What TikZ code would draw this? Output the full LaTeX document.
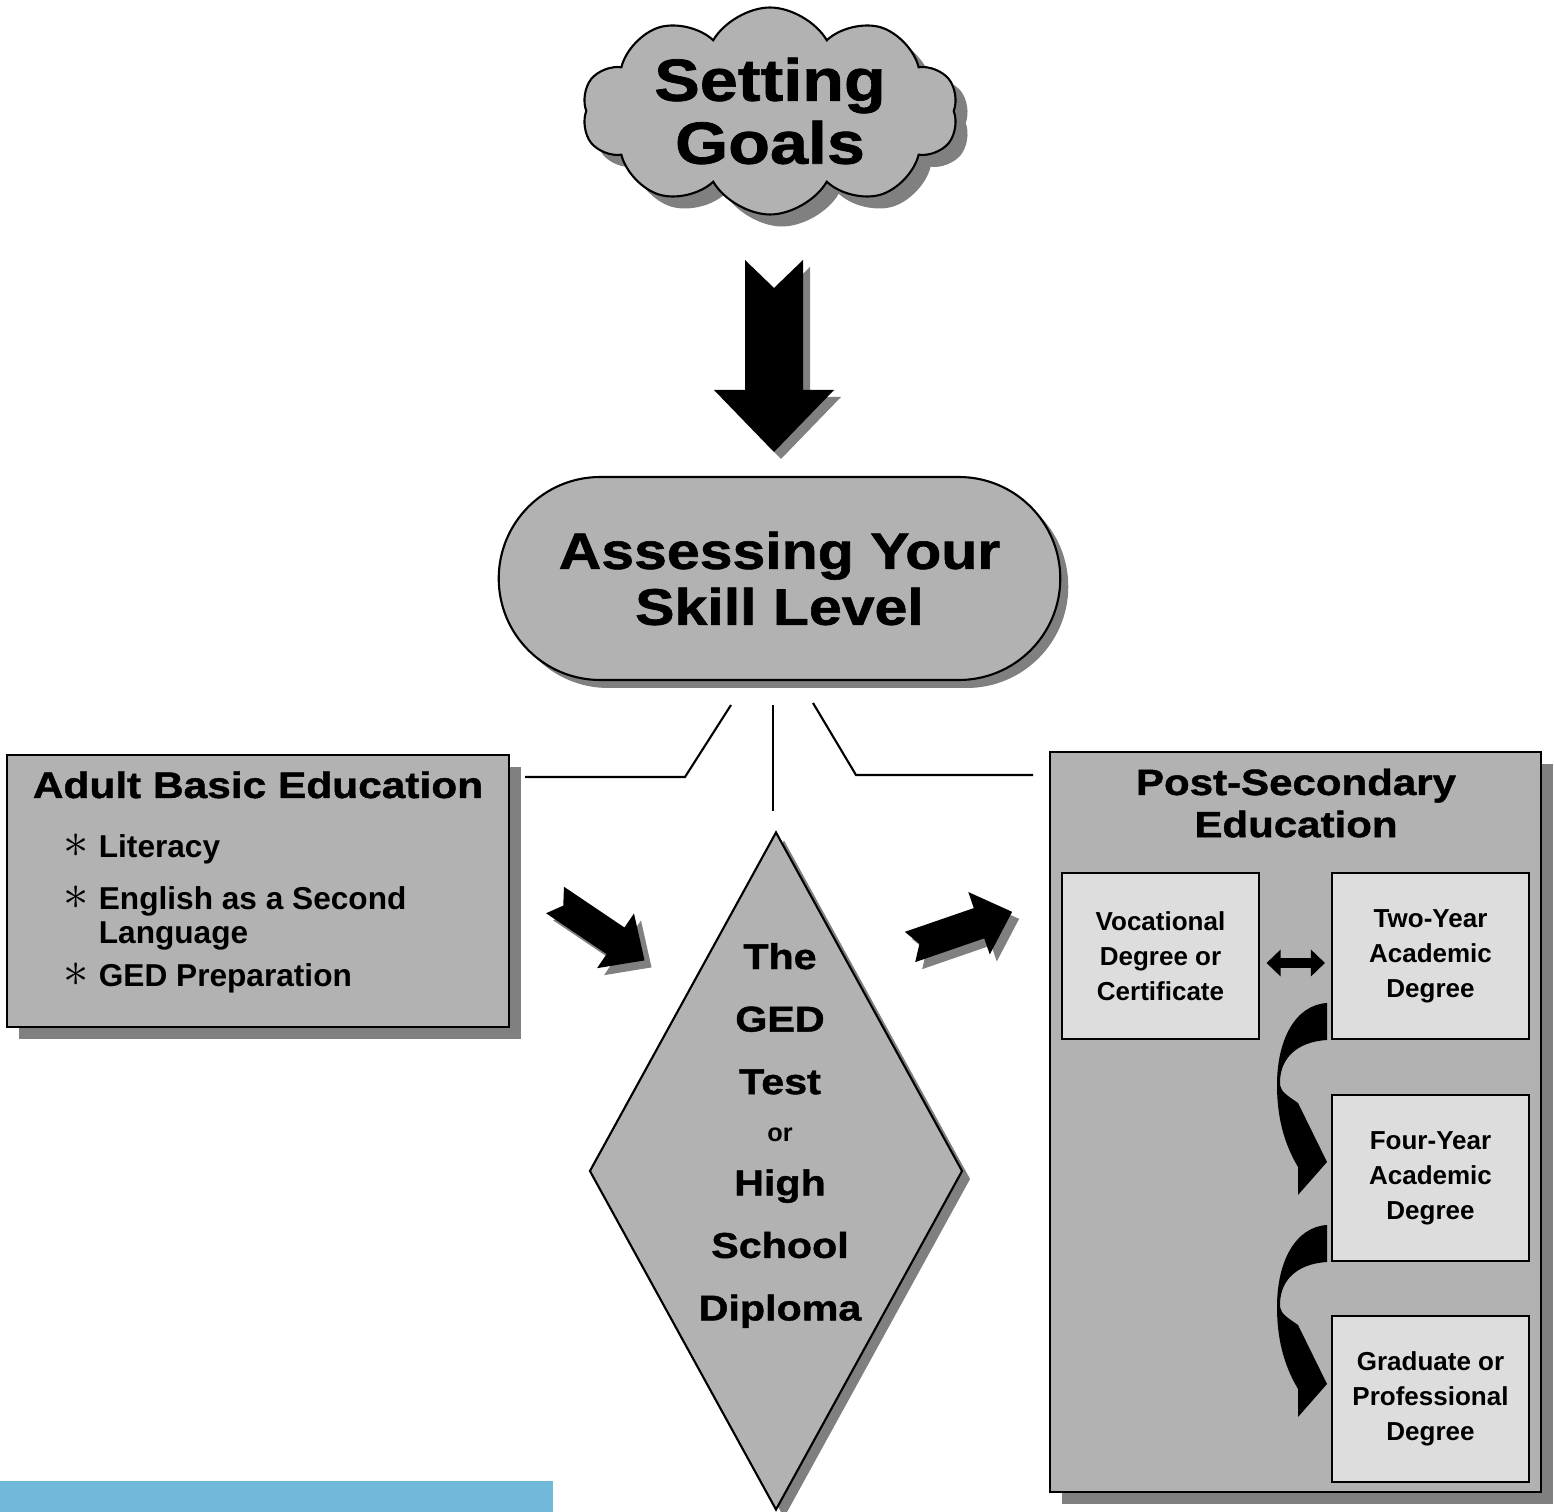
\documentclass[tikz,border=0pt]{standalone}
\usepackage{fontspec}
\setmainfont{Liberation Sans}
\newfontfamily\blackfont{Liberation Sans}[UprightFont={* Bold}, FakeStretch=1.15, FakeBold=1.2]
\usetikzlibrary{shapes.geometric, shapes.misc, shapes.symbols, shadows, arrows.meta, positioning}
\definecolor{boxgray}{RGB}{178,178,178}
\definecolor{shadowgray}{RGB}{128,128,128}
\definecolor{lightbox}{RGB}{221,221,221}
\definecolor{barblue}{RGB}{112,185,218}

\begin{document}
\begin{tikzpicture}[x=0.1mm, y=-0.1mm]
\tikzstyle{shade} = [drop shadow={shadow xshift=0.8mm, shadow yshift=-0.8mm, fill=shadowgray, opacity=1}]
\tikzstyle{bigshade} = [drop shadow={shadow xshift=1.2mm, shadow yshift=-1.2mm, fill=shadowgray, opacity=1}]
\tikzstyle{panel} = [rectangle, draw, line width=0.8pt, fill=boxgray, inner sep=0pt, bigshade]
\tikzstyle{degree} = [rectangle, draw, line width=0.6pt, fill=lightbox, minimum width=19.7mm, minimum height=16.6mm, align=center, inner sep=0pt, font=\bfseries\fontsize{7.4}{10}\selectfont]
\tikzstyle{link} = [line width=0.6pt]
\tikzstyle{twoway} = [{Triangle[length=1.4mm, width=2.6mm]}-{Triangle[length=1.4mm, width=2.6mm]}, line width=1mm]

\useasboundingbox (0,0) rectangle (1554,1512);

% goals and assessment
\node[cloud, cloud puffs=10, cloud puff arc=120, cloud ignores aspect, draw, line width=0.6pt, fill=boxgray, bigshade,
      minimum width=37.6mm, minimum height=20.7mm, inner sep=0pt, align=center,
      font=\blackfont\fontsize{16.9}{17.9}\selectfont] (goals) at (770,111) {Setting\\Goals};

\node[rounded rectangle, draw, line width=0.6pt, fill=boxgray, shade, minimum width=58.5mm, minimum height=20.3mm,
      align=center, font=\blackfont\fontsize{14.6}{15.9}\selectfont] (assess) at (779.5,578.5) {Assessing Your\\Skill Level};

\foreach \off/\col in {7/shadowgray, 0/black}
  \fill[\col, shift={(774+\off,260+\off)}, rotate=-90]
    (0,-29) -- (130,-29) -- (130,-60) -- (192,0) -- (130,60) -- (130,29) -- (0,29) -- (28,0) -- cycle;

% three routes
\node[panel, minimum width=50.2mm, minimum height=27.2mm] (abe) at (258,891) {};
\node[anchor=base, font=\blackfont\fontsize{10.5}{12}\selectfont] (abetitle) at (258,798) {Adult Basic Education};
\node[anchor=base west, inner sep=0pt, font=\bfseries\fontsize{9}{9.7}\selectfont] (abelist) at (63,858)
  {\begin{tabular}[t]{@{}c@{\hspace{2.8pt}}l@{}}
   {\fontsize{14}{14}\selectfont$\ast$} & Literacy\\[5pt]
   {\fontsize{14}{14}\selectfont$\ast$} & English as a Second\\
          & Language\\[2.6pt]
   {\fontsize{14}{14}\selectfont$\ast$} & GED Preparation
   \end{tabular}};

\node[diamond, draw, line width=0.6pt, fill=boxgray, shade, minimum width=37.3mm, minimum height=67.8mm, inner sep=0pt] (ged) at (776,1171) {};
\node[anchor=base, inner sep=0pt, font=\blackfont\fontsize{10.2}{17.8}\selectfont] (gedtext) at (780,969)
  {\begin{tabular}[t]{@{}c@{}}
   The\\ GED\\ Test\\[-4.4pt]
   {\normalfont\bfseries\fontsize{7.2}{8}\selectfont or}\\[-2.4pt]
   High\\ School\\ Diploma
   \end{tabular}};

\node[panel, minimum width=49.1mm, minimum height=74mm] (pse) at (1295.5,1122) {};
\node[anchor=base, inner sep=0pt, font=\blackfont\fontsize{10.4}{12}\selectfont] (psetitle) at (1296,795)
  {\begin{tabular}[t]{@{}c@{}}Post-Secondary\\ Education\end{tabular}};

\node[degree] (voc) at (1160.5,956) {Vocational\\Degree or\\Certificate};
\node[degree] (two) at (1430.5,956) {Two-Year\\Academic\\Degree};
\node[degree] (four) at (1430.5,1178) {Four-Year\\Academic\\Degree};
\node[degree] (grad) at (1430.5,1399) {Graduate or\\Professional\\Degree};

\draw[twoway] ([shift={(0.65mm,-0.7mm)}]voc.east) -- ([shift={(-0.6mm,-0.7mm)}]two.west);

\foreach \dy in {0,222}
  \fill[shift={(0,\dy)}] (1327,1003) .. controls (1295,1005) and (1277,1040) .. (1277,1085)
    .. controls (1277,1125) and (1288,1150) .. (1298,1167) -- (1298,1195) -- (1327,1162) -- (1298,1103)
    .. controls (1288,1096) and (1281,1092) .. (1280,1085)
    .. controls (1279,1060) and (1295,1042) .. (1327,1040) -- cycle;

% connectors below the assessment
\coordinate (abeend) at (525,777);
\coordinate (abebend) at (685,777);
\coordinate (leftend) at (731,705);
\coordinate (midtop) at (773,705);
\coordinate (midend) at (773,811);
\coordinate (rightend) at (813,703);
\coordinate (psebend) at (856,775);
\coordinate (pseend) at (1033,775);
\draw[link] (abeend) -- (abebend) -- (leftend);
\draw[link] (midtop) -- (midend);
\draw[link] (rightend) -- (psebend) -- (pseend);

\foreach \off/\col in {7/shadowgray, 0/black} {
  \fill[\col, shift={(555+\off,900+\off)}, rotate=-34]
    (0,-16) -- (73,-16) -- (73,-33) -- (108,0) -- (73,33) -- (73,16) -- (0,16) -- (10,0) -- cycle;
  \fill[\col, shift={(910+\off,947+\off)}, rotate=19]
    (0,-16) -- (73,-16) -- (73,-33) -- (108,0) -- (73,33) -- (73,16) -- (0,16) -- (10,0) -- cycle;
}

\fill[barblue] (0,1481) rectangle (553,1512);
\end{tikzpicture}
\end{document}
